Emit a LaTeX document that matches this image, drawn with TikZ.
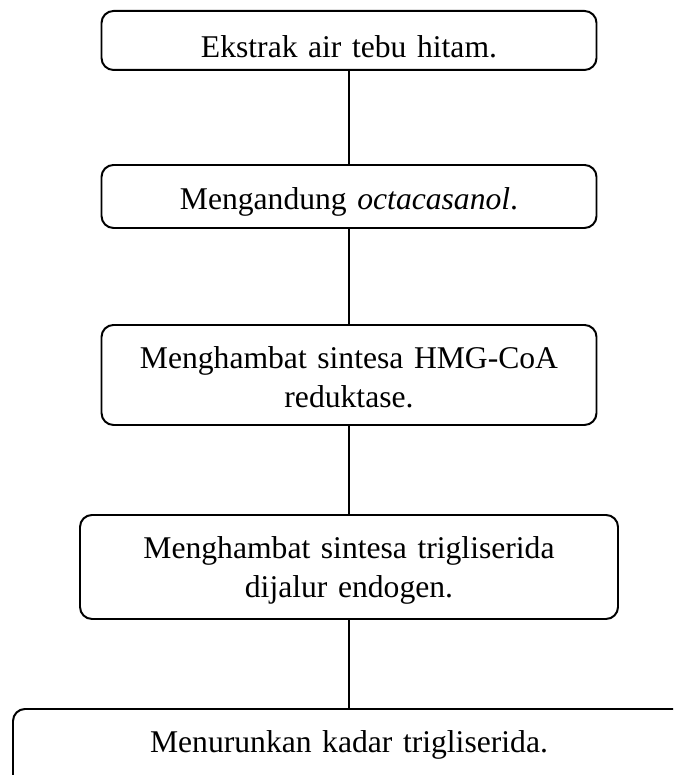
\documentclass[tikz,border=0pt]{standalone}
\usepackage{fontspec}
\setmainfont{Liberation Serif}
\usetikzlibrary{positioning}
\tikzset{
    stage/.style={draw, rounded corners=0.3cm, line width=1.4pt, inner sep=0pt, anchor=north,
        align=center, font=\fontsize{22.5}{27.7}\selectfont},
    link/.style={line width=1.4pt}
}

\begin{document}
\begin{tikzpicture}
    \useasboundingbox (0,0) rectangle (16.825,-19.375);
    \clip (0,0) rectangle (16.825,-19.375);

    \node[stage, text width=12.375cm, text height=1.175cm, text depth=0.3cm] (ekstrak) at (8.725,-0.25) {Ekstrak air tebu hitam.};
    \node[stage, text width=12.375cm, text height=1.125cm, text depth=0.45cm] (kandung) at (8.725,-4.1) {Mengandung \textit{octacasanol}.};
    \node[stage, text width=12.375cm, text height=1.1cm, text depth=1.4cm] (hmg) at (8.725,-8.1) {Menghambat sintesa HMG-CoA\\reduktase.};
    \node[stage, text width=13.45cm, text height=1.1cm, text depth=1.5cm] (sintesa) at (8.725,-12.85) {Menghambat sintesa trigliserida\\dijalur endogen.};
    \node[stage, text width=16.8cm, text height=1.1cm, text depth=1.4cm] (turun) at (8.725,-17.7) {Menurunkan kadar trigliserida.};

    \draw[link] (ekstrak) -- (kandung);
    \draw[link] (kandung) -- (hmg);
    \draw[link] (hmg) -- (sintesa);
    \draw[link] (sintesa) -- (turun);

\end{tikzpicture}
\end{document}
